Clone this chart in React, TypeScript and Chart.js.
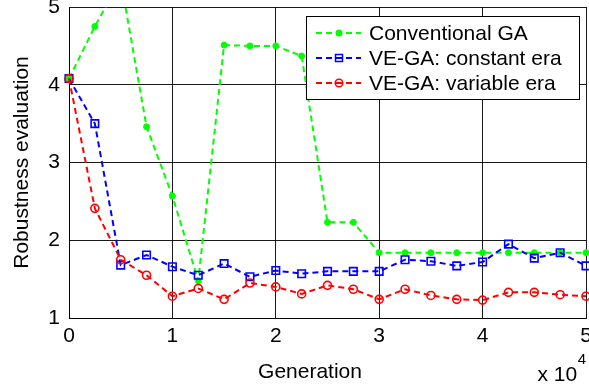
import React, { useEffect, useRef } from "react";
import { Chart, registerables } from "chart.js";

Chart.register(...registerables);

const FONT = '"Liberation Sans", Arial, Helvetica, sans-serif';

const generations = [
  0, 2500, 5000, 7500, 10000, 12500, 15000, 17500, 20000, 22500, 25000,
  27500, 30000, 32500, 35000, 37500, 40000, 42500, 45000, 47500, 50000,
];
const conventionalGA = [
  4.08, 4.75, 5.35, 3.46, 2.57, 1.48, 4.51, 4.5, 4.5, 4.37, 2.23, 2.23, 1.84,
  1.84, 1.84, 1.84, 1.84, 1.84, 1.84, 1.84, 1.84,
];
const constantEra = [
  4.08, 3.5, 1.68, 1.81, 1.66, 1.55, 1.7, 1.53, 1.61, 1.57, 1.6, 1.6, 1.6,
  1.75, 1.73, 1.67, 1.72, 1.95, 1.77, 1.84, 1.67,
];
const variableEra = [
  4.08, 2.41, 1.75, 1.55, 1.28, 1.38, 1.24, 1.45, 1.4, 1.31, 1.42, 1.37, 1.24,
  1.37, 1.29, 1.24, 1.23, 1.33, 1.33, 1.3, 1.28,
];
const seriesLabels = [
  "Conventional GA",
  "VE-GA: constant era",
  "VE-GA: variable era",
];
const seriesColors = ["rgb(0,255,0)", "rgb(0,0,255)", "rgb(255,0,0)"];
const xTickValues = [0, 10000, 20000, 30000, 40000, 50000];
const xTickLabels = ["0", "1", "2", "3", "4", "5"];
const yMin = 1;
const yMax = 5;
const xMin = 0;
const xMax = 50000;
const xLabel = "Generation";
const yLabel = "Robustness evaluation";

const DASH = [6, 4];

function drawMarker(ctx: CanvasRenderingContext2D, kind: number, x: number, y: number, color: string) {
  ctx.save();
  ctx.setLineDash([]);
  ctx.strokeStyle = color;
  ctx.fillStyle = color;
  ctx.lineWidth = 1.5;
  if (kind === 0) {
    ctx.beginPath();
    ctx.arc(x, y, 3.5, 0, Math.PI * 2);
    ctx.fill();
  } else if (kind === 1) {
    ctx.strokeRect(x - 3.5, y - 3.5, 7, 7);
  } else {
    ctx.beginPath();
    ctx.arc(x, y, 3.8, 0, Math.PI * 2);
    ctx.stroke();
  }
  ctx.restore();
}

const overlay = {
  id: "overlay",
  afterDraw(chart: any) {
    const ctx: CanvasRenderingContext2D = chart.ctx;
    const { top, bottom, right } = chart.chartArea;
    const xs = chart.scales.x;
    ctx.save();
    ctx.fillStyle = "#000";
    ctx.font = `21px ${FONT}`;
    // x tick labels
    ctx.textAlign = "center";
    ctx.textBaseline = "middle";
    xTickValues.forEach((v, i) => {
      ctx.fillText(xTickLabels[i], xs.getPixelForValue(v), bottom + 18);
    });
    // y title
    ctx.save();
    ctx.translate(28, (top + bottom) / 2);
    ctx.rotate(-Math.PI / 2);
    ctx.textAlign = "center";
    ctx.textBaseline = "alphabetic";
    ctx.fillText(yLabel, 0, 0);
    ctx.restore();
    // x title
    ctx.textAlign = "center";
    ctx.textBaseline = "alphabetic";
    ctx.fillText(xLabel, 310, 378);
    // exponent
    ctx.textAlign = "right";
    ctx.font = `15px ${FONT}`;
    ctx.fillText("4", right, 364);
    const w4 = ctx.measureText("4").width;
    ctx.font = `21px ${FONT}`;
    ctx.fillText("x 10", right - w4 - 0.5, 381);

    // legend
    const lx = 306, ly = 16, lw = 273, lh = 83;
    ctx.fillStyle = "#fff";
    ctx.fillRect(lx, ly, lw, lh);
    ctx.strokeStyle = "#000";
    ctx.lineWidth = 1;
    ctx.strokeRect(lx + 0.5, ly + 0.5, lw, lh);
    const rows = [33, 58, 83];
    seriesLabels.forEach((label, i) => {
      const y = rows[i];
      ctx.save();
      ctx.strokeStyle = seriesColors[i];
      ctx.lineWidth = 2;
      ctx.setLineDash(DASH);
      ctx.beginPath();
      ctx.moveTo(316, y);
      ctx.lineTo(361, y);
      ctx.stroke();
      ctx.restore();
      drawMarker(ctx, i, 339, y, seriesColors[i]);
      ctx.fillStyle = "#000";
      ctx.font = `21px ${FONT}`;
      ctx.textAlign = "left";
      ctx.textBaseline = "middle";
      ctx.fillText(label, 369, y + 1);
    });
    ctx.restore();
  },
};

function toPoints(values: number[]) {
  return values.map((v, i) => ({ x: generations[i], y: v }));
}

export default function App() {
  const ref = useRef<HTMLCanvasElement>(null);
  useEffect(() => {
    document.body.style.margin = "0";
    const canvas = ref.current!;
    const clip = { left: 8, right: 8, top: 0, bottom: 8 };
    const chart = new Chart(canvas, {
      type: "line",
      data: {
        datasets: [
          {
            label: seriesLabels[0],
            data: toPoints(conventionalGA),
            borderColor: seriesColors[0],
            backgroundColor: seriesColors[0],
            borderWidth: 2,
            borderDash: DASH,
            pointStyle: "circle",
            pointRadius: 3,
            pointBorderWidth: 1,
            pointBackgroundColor: seriesColors[0],
            pointBorderColor: seriesColors[0],
            tension: 0,
            clip: clip as any,
            order: 3,
          },
          {
            label: seriesLabels[1],
            data: toPoints(constantEra),
            borderColor: seriesColors[1],
            backgroundColor: "rgba(0,0,0,0)",
            borderWidth: 2,
            borderDash: DASH,
            pointStyle: "rect",
            pointRadius: 5.3,
            pointBorderWidth: 1.6,
            pointBackgroundColor: "rgba(0,0,0,0)",
            pointBorderColor: seriesColors[1],
            tension: 0,
            clip: clip as any,
            order: 2,
          },
          {
            label: seriesLabels[2],
            data: toPoints(variableEra),
            borderColor: seriesColors[2],
            backgroundColor: "rgba(0,0,0,0)",
            borderWidth: 2,
            borderDash: DASH,
            pointStyle: "circle",
            pointRadius: 4,
            pointBorderWidth: 1.6,
            pointBackgroundColor: "rgba(0,0,0,0)",
            pointBorderColor: seriesColors[2],
            tension: 0,
            clip: clip as any,
            order: 1,
          },
        ],
      },
      options: {
        animation: false,
        responsive: false,
        events: [],
        layout: { autoPadding: false, padding: { top: 7, right: 3, left: 0, bottom: 0 } },
        plugins: {
          legend: { display: false },
          tooltip: { enabled: false },
          title: { display: false },
        },
        scales: {
          x: {
            type: "linear",
            min: xMin,
            max: xMax,
            afterBuildTicks(scale: any) {
              scale.ticks = xTickValues.map((v) => ({ value: v }));
            },
            afterFit(scale: any) {
              scale.height = 67;
              scale.paddingLeft = 0;
              scale.paddingRight = 0;
            },
            ticks: {
              display: false,
            },
            grid: {
              color: "rgba(0,0,0,0.9)",
              lineWidth: 1,
              drawTicks: false,
            },
            border: { color: "rgba(0,0,0,0.9)", width: 1 },
          },
          y: {
            type: "linear",
            min: yMin,
            max: yMax,
            afterFit(scale: any) {
              scale.width = 69;
              scale.paddingTop = 0;
              scale.paddingBottom = 0;
            },
            ticks: {
              stepSize: 1,
              font: { family: FONT, size: 21 },
              color: "#000",
              padding: 9,
            },
            grid: {
              color: "rgba(0,0,0,0.9)",
              lineWidth: 1,
              drawTicks: false,
            },
            border: { color: "rgba(0,0,0,0.9)", width: 1 },
          },
        },
      },
      plugins: [overlay],
    });
    return () => chart.destroy();
  }, []);
  return <canvas ref={ref} width={589} height={385} style={{ display: "block" }} />;
}
